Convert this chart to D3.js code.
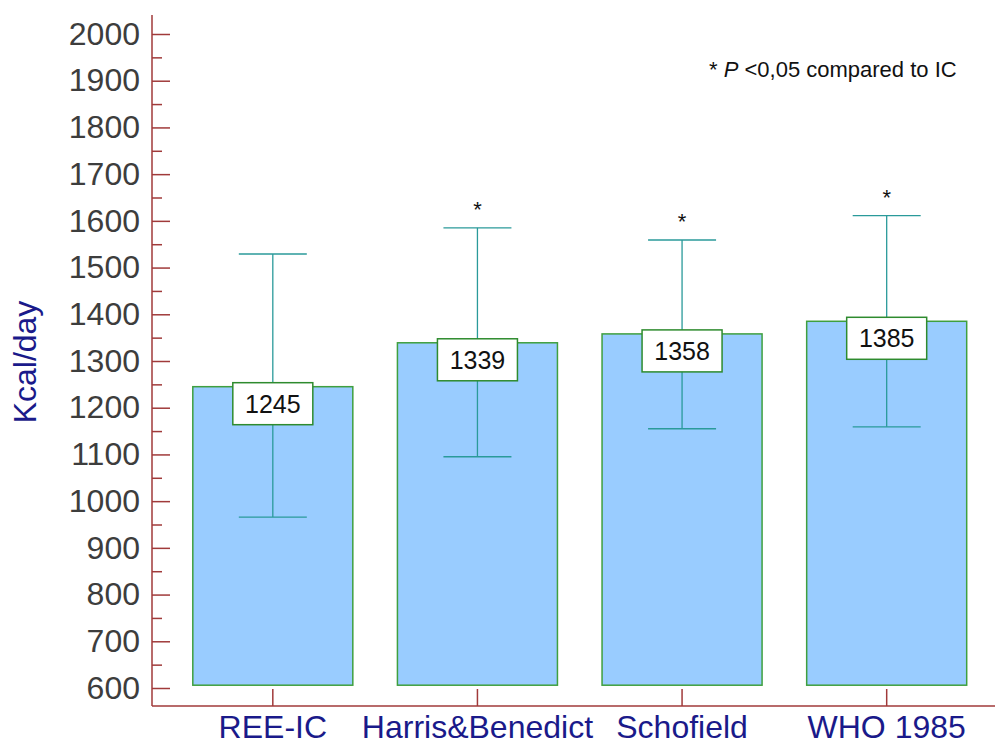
<!DOCTYPE html>
<html>
<head>
<meta charset="utf-8">
<script src="https://cdn.jsdelivr.net/npm/d3@7"></script>
<style>
  html, body { margin: 0; padding: 0; background: #ffffff; }
  svg { display: block; font-family: Arial, "Liberation Sans", sans-serif; }
</style>
</head>
<body>
<svg id="chart" width="995" height="746"></svg>
<script>
// ---- data ----
const categories = ["REE-IC", "Harris&Benedict", "Schofield", "WHO 1985"];
const means = [1245, 1339, 1358, 1385];
const upper = [1529, 1585, 1559, 1611];
const lower = [966, 1095, 1155, 1159];
const significant = [false, true, true, true];
const yTicks = [600, 700, 800, 900, 1000, 1100, 1200, 1300, 1400, 1500, 1600, 1700, 1800, 1900, 2000];
const yMinorTicks = [650, 750, 850, 950, 1050, 1150, 1250, 1350, 1450, 1550, 1650, 1750, 1850, 1950];
const barBase = 606;
const yLabel = "Kcal/day";

// ---- layout ----
const svg = d3.select("#chart");
const axisX0 = 152, axisY0 = 706;
const axisColor = "#a03a3a";

const y = d3.scaleLinear().domain([600, 2000]).range([688, 34]);
const x = d3.scaleBand().domain(categories).range([170.5, 989]).paddingInner(0.218).paddingOuter(0.109);

// bars
const g = svg.append("g");
g.selectAll("rect.bar").data(categories).join("rect")
  .attr("class", "bar")
  .attr("x", d => x(d))
  .attr("width", x.bandwidth())
  .attr("y", (d, i) => y(means[i]))
  .attr("height", (d, i) => y(barBase) - y(means[i]))
  .attr("fill", "#99ccff")
  .attr("stroke", "#3f9f3f")
  .attr("stroke-width", 1.5);

// error bars
const errColor = "#2a9a9a";
const capHalf = 34;
categories.forEach((c, i) => {
  const cx = x(c) + x.bandwidth() / 2;
  g.append("line").attr("x1", cx).attr("x2", cx).attr("y1", y(upper[i])).attr("y2", y(lower[i]))
    .attr("stroke", errColor).attr("stroke-width", 1.3);
  g.append("line").attr("x1", cx - capHalf).attr("x2", cx + capHalf).attr("y1", y(upper[i])).attr("y2", y(upper[i]))
    .attr("stroke", errColor).attr("stroke-width", 1.3);
  g.append("line").attr("x1", cx - capHalf).attr("x2", cx + capHalf).attr("y1", y(lower[i])).attr("y2", y(lower[i]))
    .attr("stroke", errColor).attr("stroke-width", 1.3);
  // value label box
  const bw = 80, bh = 42;
  const top = y(means[i]) - 4;
  g.append("rect").attr("x", cx - bw / 2).attr("y", top).attr("width", bw).attr("height", bh)
    .attr("fill", "#ffffff").attr("stroke", "#2e8b2e").attr("stroke-width", 1.5);
  g.append("text").attr("x", cx).attr("y", top + bh / 2 + 9)
    .attr("text-anchor", "middle").attr("font-size", 25).attr("fill", "#111")
    .text(means[i]);
  if (significant[i]) {
    g.append("text").attr("x", cx).attr("y", y(upper[i]) - 11)
      .attr("text-anchor", "middle").attr("font-size", 22).attr("fill", "#111")
      .text("*");
  }
});

// y axis
const yAxis = svg.append("g").attr("transform", `translate(${axisX0},0)`)
  .call(d3.axisLeft(y).tickValues(yTicks).tickSizeInner(-18).tickSizeOuter(0).tickPadding(12).tickFormat(d3.format("d")));
yAxis.select(".domain").remove();
yAxis.selectAll("line").attr("stroke", axisColor).attr("stroke-width", 1.5);
yAxis.selectAll("text").attr("font-size", 32).attr("fill", "#3d3d3d").attr("font-family", "Arial, 'Liberation Sans', sans-serif");

const yMinor = svg.append("g").attr("transform", `translate(${axisX0},0)`)
  .call(d3.axisLeft(y).tickValues(yMinorTicks).tickSizeInner(-10).tickSizeOuter(0).tickFormat(""));
yMinor.select(".domain").remove();
yMinor.selectAll("line").attr("stroke", axisColor).attr("stroke-width", 1.5);

svg.append("line").attr("x1", axisX0).attr("x2", axisX0).attr("y1", 15).attr("y2", axisY0)
  .attr("stroke", axisColor).attr("stroke-width", 1.5);

// x axis
const xAxis = svg.append("g").attr("transform", `translate(0,${axisY0})`)
  .call(d3.axisBottom(x).tickSizeInner(-17).tickSizeOuter(0).tickPadding(9));
xAxis.select(".domain").remove();
xAxis.selectAll("line").attr("stroke", axisColor).attr("stroke-width", 1.5);
xAxis.selectAll("text").attr("font-size", 32).attr("fill", "#1a1a8a").attr("font-family", "Arial, 'Liberation Sans', sans-serif");

svg.append("line").attr("x1", axisX0).attr("x2", 995).attr("y1", axisY0).attr("y2", axisY0)
  .attr("stroke", axisColor).attr("stroke-width", 1.5);

// y title
svg.append("text").attr("transform", "translate(36,362) rotate(-90)")
  .attr("text-anchor", "middle").attr("font-size", 32).attr("fill", "#1a1a8a")
  .text(yLabel);

// note
const note = svg.append("text").attr("x", 709).attr("y", 77).attr("font-size", 22).attr("fill", "#111");
note.append("tspan").text("* ");
note.append("tspan").attr("font-style", "italic").text("P");
note.append("tspan").text(" <0,05 compared to IC");
</script>
</body>
</html>
